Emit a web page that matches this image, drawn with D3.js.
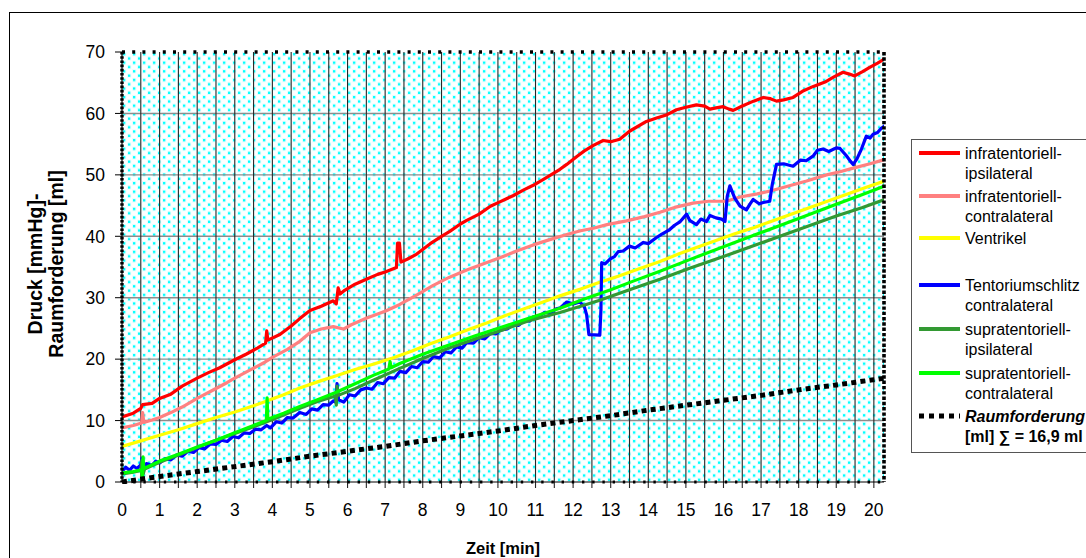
<!DOCTYPE html>
<html>
<head>
<meta charset="utf-8">
<script src="https://cdn.jsdelivr.net/npm/d3@7"></script>
<style>
  html, body { margin: 0; padding: 0; background: #fff; }
  svg { display: block; font-family: "Liberation Sans", Arial, sans-serif; }
</style>
</head>
<body>
<svg id="chart" width="1086" height="558"></svg>
<script>
// Pressure curves [time in min, value in mmHg] and the volume of the mass [ml]
const infraIpsi = [[0,10.6],[0.3,11.2],[0.5,12.0],[0.55,12.6],[0.8,12.8],[1.0,13.6],[1.3,14.3],[1.6,15.6],[2.0,16.9],[2.3,17.8],[2.6,18.6],[3.0,19.9],[3.3,20.8],[3.6,21.8],[3.82,22.6],[3.85,24.6],[3.88,23.1],[4.2,24.0],[4.5,25.4],[4.73,26.6],[5.0,27.9],[5.3,28.6],[5.62,29.5],[5.7,29.0],[5.75,31.6],[5.8,30.6],[5.9,31.1],[6.2,32.2],[6.5,33.0],[6.8,33.8],[7.0,34.2],[7.3,34.9],[7.33,38.9],[7.38,38.9],[7.42,35.8],[7.6,36.3],[7.84,37.1],[8.2,38.8],[8.5,40.0],[8.72,40.8],[9.0,42.0],[9.17,42.6],[9.5,43.6],[9.8,44.9],[10.05,45.6],[10.4,46.6],[10.7,47.6],[10.94,48.3],[11.3,49.6],[11.65,50.9],[11.83,51.7],[12.1,53.0],[12.3,53.9],[12.54,54.8],[12.8,55.6],[13.0,55.4],[13.24,55.8],[13.5,57.1],[13.95,58.7],[14.2,59.2],[14.5,59.8],[14.75,60.6],[15.0,61.0],[15.28,61.4],[15.5,61.2],[15.64,60.7],[15.8,60.9],[15.99,61.1],[16.15,60.7],[16.26,60.5],[16.5,61.2],[16.8,62.0],[17.06,62.6],[17.25,62.4],[17.41,62.0],[17.6,62.2],[17.85,62.6],[18.1,63.6],[18.39,64.4],[18.7,65.1],[18.95,66.0],[19.18,66.7],[19.35,66.4],[19.49,66.1],[19.7,66.8],[19.89,67.5],[20.1,68.2],[20.29,68.9]];

const infraContra = [[0,8.8],[0.3,9.2],[0.52,9.6],[0.55,11.3],[0.58,9.7],[0.8,10.1],[1.0,10.5],[1.3,11.3],[1.6,12.2],[2.0,13.6],[2.4,14.9],[2.8,16.2],[3.0,16.9],[3.4,18.2],[3.8,19.5],[4.0,20.3],[4.4,21.6],[4.73,22.9],[5.0,24.3],[5.3,24.9],[5.62,25.3],[5.89,24.9],[6.1,25.6],[6.51,26.7],[7.0,27.8],[7.39,28.9],[7.8,30.3],[8.28,32.0],[8.7,33.3],[9.17,34.5],[9.6,35.5],[10.05,36.5],[10.5,37.6],[10.94,38.6],[11.4,39.5],[11.83,40.3],[12.2,40.9],[12.54,41.3],[12.9,41.9],[13.42,42.5],[13.9,43.2],[14.31,43.9],[14.7,44.7],[15.19,45.4],[15.6,45.7],[16.08,45.7],[16.44,46.4],[16.9,46.9],[17.32,47.5],[17.8,48.3],[18.21,49.0],[18.74,50.0],[19.1,50.5],[19.45,51.1],[19.9,51.8],[20.29,52.5]];

const ventrikel = [[0,5.8],[0.5,6.7],[1,7.6],[1.5,8.5],[2,9.5],[2.5,10.5],[3,11.4],[3.5,12.4],[3.85,13.2],[4.3,14.2],[4.73,15.3],[5.2,16.3],[5.7,17.3],[6.2,18.3],[6.7,19.2],[7.2,20.2],[7.7,21.3],[8.2,22.5],[8.7,23.6],[9.2,24.8],[9.7,25.9],[10.2,27.1],[10.7,28.2],[11.2,29.3],[11.65,30.3],[12.2,31.4],[12.71,32.5],[13.2,33.5],[13.7,34.6],[14.31,35.9],[14.8,37.1],[15.3,38.2],[15.8,39.3],[16.3,40.4],[16.8,41.4],[17.3,42.5],[17.8,43.6],[18.3,44.7],[18.8,45.8],[19.3,46.9],[19.8,48.0],[20.29,49.0]];

const tentorium = [[0,1.7],[0.1,2.4],[0.2,1.9],[0.3,2.6],[0.4,2.2],[0.5,2.8],[0.53,3.9],[0.56,2.1],[0.65,3.0],[0.8,2.7],[0.9,3.4],[1.0,3.1],[1.15,3.8],[1.3,3.6],[1.45,4.4],[1.6,4.2],[1.75,5.0],[1.9,4.8],[2.05,5.6],[2.2,5.4],[2.35,6.2],[2.5,6.1],[2.65,6.8],[2.8,6.6],[2.95,7.4],[3.1,7.2],[3.25,8.0],[3.4,7.9],[3.55,8.6],[3.7,8.5],[3.85,9.2],[3.95,8.8],[4.1,9.8],[4.25,9.6],[4.4,10.5],[4.55,10.4],[4.73,11.3],[4.9,11.0],[5.05,11.9],[5.2,11.7],[5.35,12.6],[5.5,12.5],[5.62,13.2],[5.68,13.0],[5.72,16.0],[5.76,13.4],[5.9,13.0],[6.05,14.2],[6.2,14.0],[6.35,15.0],[6.5,15.3],[6.65,15.1],[6.8,16.2],[6.95,16.0],[7.1,17.0],[7.25,16.9],[7.39,18.0],[7.55,17.8],[7.7,18.8],[7.85,18.6],[8.0,19.6],[8.15,19.5],[8.28,20.4],[8.45,20.2],[8.6,21.2],[8.75,21.0],[8.9,22.0],[9.05,21.8],[9.17,22.7],[9.35,22.6],[9.5,23.5],[9.65,23.3],[9.8,24.2],[9.95,24.1],[10.05,24.7],[10.25,24.9],[10.4,25.6],[10.55,25.5],[10.7,26.3],[10.85,26.2],[10.94,26.9],[11.1,27.0],[11.25,27.6],[11.4,27.5],[11.55,28.2],[11.65,28.3],[11.83,29.3],[12.0,29.0],[12.18,29.3],[12.3,28.5],[12.36,27.2],[12.42,24.0],[12.71,23.9],[12.74,28.0],[12.76,35.7],[12.85,35.5],[12.98,36.3],[13.1,36.7],[13.2,37.5],[13.33,37.6],[13.5,38.4],[13.65,38.1],[13.87,39.0],[14.0,38.8],[14.22,39.8],[14.35,40.3],[14.57,41.1],[14.7,41.8],[14.85,42.4],[15.02,43.6],[15.1,42.6],[15.28,41.9],[15.4,42.8],[15.55,42.4],[15.64,43.4],[15.8,43.0],[15.95,42.8],[16.04,42.4],[16.1,46.5],[16.17,48.2],[16.3,46.2],[16.44,44.9],[16.61,44.3],[16.7,45.2],[16.79,46.0],[16.95,45.3],[17.06,45.5],[17.23,45.7],[17.3,48.5],[17.41,51.7],[17.6,51.8],[17.85,51.4],[18.05,52.4],[18.2,52.3],[18.39,53.1],[18.5,54.0],[18.65,54.2],[18.8,53.8],[19.0,54.4],[19.1,54.3],[19.27,53.1],[19.38,52.2],[19.45,51.7],[19.55,52.6],[19.67,54.2],[19.8,56.3],[19.9,56.0],[19.98,56.6],[20.1,56.9],[20.2,57.6],[20.29,58.0]];

const supraIpsi = [[0,1.3],[0.3,1.6],[0.5,1.9],[0.53,3.5],[0.56,1.2],[0.6,2.1],[1,3.2],[1.5,4.4],[2,5.6],[2.5,6.8],[3,7.9],[3.5,9.0],[3.85,9.8],[4.3,10.9],[4.73,12.0],[5.2,13.1],[5.68,14.0],[5.7,12.5],[5.72,15.6],[5.75,14.1],[6.2,15.2],[6.7,16.6],[7.39,18.5],[8.0,20.1],[8.7,21.8],[9.4,23.3],[10.05,24.6],[10.8,26.2],[11.65,27.6],[12.2,28.6],[12.71,29.6],[13.5,31.3],[14.31,33.0],[15.1,34.8],[16.0,36.7],[17.0,38.9],[18.0,41.1],[19.0,43.3],[19.7,44.7],[20.29,46.0]];

const supraContra = [[0,1.5],[0.3,1.7],[0.52,2.0],[0.54,0.7],[0.56,4.1],[0.58,2.2],[0.8,2.8],[1,3.4],[1.5,4.5],[2,5.7],[2.5,6.8],[3,8.0],[3.5,9.2],[3.84,10.0],[3.86,13.7],[3.88,10.2],[4.3,11.2],[4.73,12.3],[5.2,13.4],[5.7,14.6],[6.2,16.0],[6.7,17.4],[7.1,18.4],[7.13,19.6],[7.16,18.6],[7.39,19.3],[8.0,20.8],[8.7,22.3],[9.4,23.8],[10.05,25.1],[10.8,26.6],[11.65,28.3],[12.3,29.8],[13.0,31.3],[13.6,32.7],[14.31,34.3],[15.1,36.2],[16.0,38.3],[17.0,40.6],[18.0,42.9],[19.0,45.2],[19.7,46.8],[20.29,48.2]];

const raumforderung = [[0,0],[1,0.9],[2,1.7],[3,2.5],[4,3.3],[5,4.2],[6,5.0],[7,5.8],[8,6.7],[9,7.5],[10,8.3],[11,9.2],[12,10.0],[13,10.8],[14,11.7],[15,12.5],[16,13.3],[17,14.1],[18,15.0],[19,15.8],[20.29,16.9]];

const xTickLabels = [0,1,2,3,4,5,6,7,8,9,10,11,12,13,14,15,16,17,18,19,20];
const yTickLabels = [0,10,20,30,40,50,60,70];

const series = [
  { name: ["infratentoriell-", "ipsilateral"], data: infraIpsi, color: "#ff0000" },
  { name: ["infratentoriell-", "contralateral"], data: infraContra, color: "#ff8080" },
  { name: ["Ventrikel"], data: ventrikel, color: "#ffff00" },
  { name: ["Tentoriumschlitz", "contralateral"], data: tentorium, color: "#0000ff" },
  { name: ["supratentoriell-", "ipsilateral"], data: supraIpsi, color: "#339933" },
  { name: ["supratentoriell-", "contralateral"], data: supraContra, color: "#00ff00" }
];

const svg = d3.select("#chart");
const plot = { left: 122, right: 884, top: 52, bottom: 482 };

const x = d3.scaleLinear().domain([0, 20.27]).range([plot.left, plot.right]);
const y = d3.scaleLinear().domain([0, 70]).range([plot.bottom, plot.top]);

// outer chart frame
svg.append("rect").attr("x", 9.5).attr("y", 12.5).attr("width", 1200).attr("height", 700)
  .attr("fill", "#fff").attr("stroke", "#000").attr("stroke-width", 1);

// dotted cyan fill of the plot area
const defs = svg.append("defs");
const pat = defs.append("pattern").attr("id", "dots").attr("patternUnits", "userSpaceOnUse")
  .attr("x", plot.left).attr("y", plot.top).attr("width", 10).attr("height", 8.6);
pat.append("rect").attr("width", 10).attr("height", 8.6).attr("fill", "#fff");
[[1, 1], [6, 5.3]].forEach(([px, py]) => {
  pat.append("rect").attr("x", px - 1).attr("y", py - 1).attr("width", 4.3).attr("height", 4.3).attr("fill", "#e4ffff");
  pat.append("rect").attr("x", px).attr("y", py).attr("width", 2.3).attr("height", 2.3).attr("fill", "#00ffff");
});
defs.append("clipPath").attr("id", "clip").append("rect")
  .attr("x", plot.left).attr("y", plot.top - 2).attr("width", plot.right - plot.left).attr("height", plot.bottom - plot.top + 4);

svg.append("rect").attr("x", plot.left).attr("y", plot.top)
  .attr("width", plot.right - plot.left).attr("height", plot.bottom - plot.top)
  .attr("fill", "url(#dots)");

// horizontal grid
svg.append("g").selectAll("line").data(yTickLabels.filter(v => v > 0 && v < 70)).join("line")
  .attr("x1", plot.left).attr("x2", plot.right).attr("y1", d => y(d)).attr("y2", d => y(d))
  .attr("stroke", "#8c8c8c").attr("stroke-width", 1.4);

// vertical grid every half minute, running past the axis as ticks
const halfSteps = d3.range(1, 41).map(i => i / 2);
svg.append("g").selectAll("line").data(halfSteps).join("line")
  .attr("x1", d => x(d)).attr("x2", d => x(d)).attr("y1", plot.top).attr("y2", plot.bottom + 6)
  .attr("stroke", "#262626").attr("stroke-width", 1.1);

// y ticks
svg.append("g").selectAll("line").data(yTickLabels).join("line")
  .attr("x1", plot.left - 7).attr("x2", plot.left).attr("y1", d => y(d)).attr("y2", d => y(d))
  .attr("stroke", "#000").attr("stroke-width", 1);

// data lines
const line = d3.line().x(d => x(d[0])).y(d => y(d[1]));
const lines = svg.append("g").attr("clip-path", "url(#clip)");
series.forEach(s => {
  lines.append("path").datum(s.data).attr("d", line)
    .attr("fill", "none").attr("stroke", s.color).attr("stroke-width", 3.2)
    .attr("stroke-linejoin", "round").attr("stroke-linecap", "round");
});
lines.append("path").datum(raumforderung).attr("d", line)
  .attr("fill", "none").attr("stroke", "#000").attr("stroke-width", 5)
  .attr("stroke-dasharray", "5,4.2");

// plot border drawn as dotted lines
svg.append("line").attr("x1", plot.left).attr("x2", plot.right).attr("y1", plot.bottom).attr("y2", plot.bottom)
  .attr("stroke", "#000").attr("stroke-width", 1.2);
svg.append("line").attr("x1", plot.left + 1).attr("x2", plot.right).attr("y1", plot.bottom).attr("y2", plot.bottom)
  .attr("stroke", "#000").attr("stroke-width", 3).attr("stroke-dasharray", "2.4,7.8");
svg.append("line").attr("x1", plot.left).attr("x2", plot.right + 2).attr("y1", plot.top).attr("y2", plot.top)
  .attr("stroke", "#000").attr("stroke-width", 3.5).attr("stroke-dasharray", "3,7.2");
svg.append("line").attr("x1", plot.right).attr("x2", plot.right).attr("y1", plot.top).attr("y2", plot.bottom)
  .attr("stroke", "#000").attr("stroke-width", 3.6).attr("stroke-dasharray", "3.4,1.9");
svg.append("line").attr("x1", plot.left).attr("x2", plot.left).attr("y1", plot.top).attr("y2", plot.bottom)
  .attr("stroke", "#000").attr("stroke-width", 1.2);
svg.append("line").attr("x1", plot.left).attr("x2", plot.left).attr("y1", plot.top).attr("y2", plot.bottom)
  .attr("stroke", "#000").attr("stroke-width", 3.4).attr("stroke-dasharray", "2.6,1.6");

// tick labels
svg.append("g").selectAll("text").data(yTickLabels).join("text")
  .attr("x", 105).attr("y", d => y(d)).attr("dy", "0.36em").attr("text-anchor", "end")
  .attr("font-size", 17.5).attr("fill", "#000").text(d => d);
svg.append("g").selectAll("text").data(xTickLabels).join("text")
  .attr("x", d => x(d)).attr("y", 516).attr("text-anchor", "middle")
  .attr("font-size", 17.5).attr("fill", "#000").text(d => d);

// axis titles
svg.append("text").attr("x", 503).attr("y", 554).attr("text-anchor", "middle")
  .attr("font-size", 16.5).attr("font-weight", "bold").text("Zeit [min]");
const yTitle = svg.append("text").attr("transform", "translate(0,264) rotate(-90)")
  .attr("text-anchor", "middle").attr("font-size", 19.5).attr("font-weight", "bold");
yTitle.append("tspan").attr("x", 0).attr("y", 42).text("Druck [mmHg]-");
yTitle.append("tspan").attr("x", 0).attr("y", 63).text("Raumforderung [ml]");

// legend
const leg = svg.append("g");
leg.append("rect").attr("x", 911.5).attr("y", 139.5).attr("width", 300).attr("height", 313)
  .attr("fill", "#fff").attr("stroke", "#555").attr("stroke-width", 1);
const legY = [153, 196, 238, 285, 329, 373];
series.forEach((s, i) => {
  const ly = legY[i];
  leg.append("line").attr("x1", 919).attr("x2", 960).attr("y1", ly).attr("y2", ly)
    .attr("stroke", s.color).attr("stroke-width", 4);
  s.name.forEach((t, j) => {
    leg.append("text").attr("x", 965).attr("y", ly + 5.5 + j * 20)
      .attr("font-size", 16).attr("fill", "#000").text(t);
  });
});
leg.append("line").attr("x1", 919).attr("x2", 960).attr("y1", 416).attr("y2", 416)
  .attr("stroke", "#000").attr("stroke-width", 5).attr("stroke-dasharray", "5,5");
leg.append("text").attr("x", 965).attr("y", 421.5).attr("font-size", 16)
  .attr("font-weight", "bold").attr("font-style", "italic").text("Raumforderung");
leg.append("text").attr("x", 965).attr("y", 441.5).attr("font-size", 16)
  .attr("font-weight", "bold").text("[ml] ∑ = 16,9 ml");
</script>
</body>
</html>
